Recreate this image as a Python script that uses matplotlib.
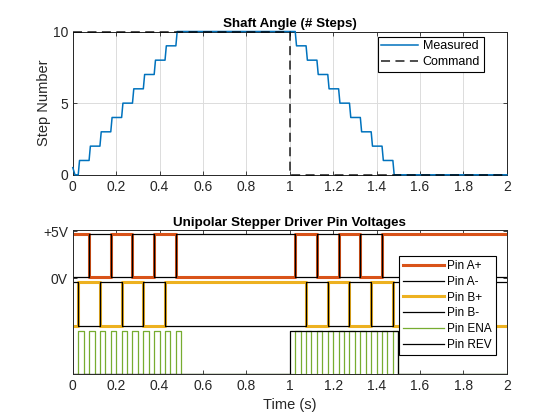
import numpy as np
import matplotlib
matplotlib.use("Agg")
import matplotlib.pyplot as plt

plt.rcParams['font.family'] = ['Liberation Sans', 'DejaVu Sans']

# --- shaft angle (steps) ---
cmd_t = [0.0, 1.0, 1.0, 2.0]
cmd_pos = [10, 10, 0, 0]

start_t = [0.0, 0.01]
start_pos = [0.5, 0.0]
step_t = [0.025, 0.075, 0.125, 0.175, 0.225, 0.275, 0.325, 0.375, 0.425, 0.475,
          1.025, 1.075, 1.125, 1.175, 1.225, 1.275, 1.325, 1.375, 1.425, 1.475]
step_level = [1, 2, 3, 4, 5, 6, 7, 8, 9, 10,
              9, 8, 7, 6, 5, 4, 3, 2, 1, 0]
end_t = 2.0

# --- driver pin edges (toggle times) ---
a_plus_init = 1
a_plus_edges = [0.075, 0.175, 0.275, 0.375, 0.475, 1.025, 1.125, 1.225, 1.325, 1.425]
b_plus_init = 0
b_plus_edges = [0.025, 0.125, 0.225, 0.325, 0.425, 1.075, 1.175, 1.275, 1.375, 1.475]
ena_rise = [0.025, 0.075, 0.125, 0.175, 0.225, 0.275, 0.325, 0.375, 0.425, 0.475,
            1.025, 1.075, 1.125, 1.175, 1.225, 1.275, 1.325, 1.375, 1.425, 1.475]
ena_width = 0.025
rev_init = 0
rev_edges = [1.0, 1.5]

# trace levels on the voltage axis (low, high)
a_lvl = (0.15, 4.75)
b_lvl = (-5.05, -0.4)
e_lvl = (-10.2, -5.6)

blue = '#0072BD'
orange = '#D95319'
yellow = '#EDB120'
green = '#77AC30'
axcol = '#262626'
xlabels = ['0', '0.2', '0.4', '0.6', '0.8', '1', '1.2', '1.4', '1.6', '1.8', '2']


def toggle_wave(init, edges, t_end=2.0):
    t = [0.0]
    v = [init]
    s = init
    for e in edges:
        s = 1 - s
        t.append(e)
        v.append(s)
    t.append(t_end)
    v.append(s)
    return np.array(t), np.array(v)


def scale(v, lvl):
    return lvl[0] + (lvl[1] - lvl[0]) * v


# measured shaft trace with short ramps at each step
meas_t = list(start_t)
meas_p = list(start_pos)
prev = start_pos[-1]
for ts, lv in zip(step_t, step_level):
    meas_t += [ts, ts + 0.006]
    meas_p += [prev, lv]
    prev = lv
meas_t.append(end_t)
meas_p.append(prev)

fig = plt.figure(figsize=(5.6, 4.2), dpi=100)
ax1 = fig.add_axes([0.13, 0.5838, 0.775, 0.3412])
ax2 = fig.add_axes([0.13, 0.11, 0.775, 0.3412])

ax1.plot(meas_t, meas_p, color=blue, lw=1.1, label='Measured', clip_on=False, zorder=3)
ax1.plot(cmd_t, cmd_pos, color='k', lw=1.3, ls=(0, (5, 3)), alpha=0.75, label='Command',
         clip_on=False, zorder=4)
ax1.set_xlim(0, 2)
ax1.set_ylim(0, 10)
ax1.set_yticks([0, 5, 10])
ax1.set_xticks(np.arange(0, 2.01, 0.2))
ax1.set_xticklabels(xlabels)
ax1.grid(True, color='#dcdcdc', lw=0.7)
ax1.set_axisbelow(True)
ax1.set_ylabel('Step Number', fontsize=10.5, color=axcol, labelpad=1)
ax1.set_title('Shaft Angle (# Steps)', fontsize=9.6, fontweight='bold', color='k', pad=3)
leg1 = ax1.legend(loc='upper right', bbox_to_anchor=(0.947, 0.965), fontsize=9,
                  fancybox=False, edgecolor='k', framealpha=1, handlelength=2.9,
                  borderpad=0.3, labelspacing=0.3, handletextpad=0.4, borderaxespad=0)
leg1.get_frame().set_linewidth(0.8)

# pin voltages
ta, va = toggle_wave(a_plus_init, a_plus_edges)
tb, vb = toggle_wave(b_plus_init, b_plus_edges)
tr, vr = toggle_wave(rev_init, rev_edges)
ena_edges = []
for r in ena_rise:
    ena_edges += [r, r + ena_width]
te, ve = toggle_wave(0, ena_edges)

ax2.plot(ta, scale(va, a_lvl), drawstyle='steps-post', color=orange, lw=2.2, label='Pin A+')
ax2.plot(ta, scale(1 - va, a_lvl), drawstyle='steps-post', color='k', lw=0.9, label='Pin A-')
ax2.plot(tb, scale(vb, b_lvl), drawstyle='steps-post', color=yellow, lw=2.2, label='Pin B+')
ax2.plot(tb, scale(1 - vb, b_lvl), drawstyle='steps-post', color='k', lw=0.9, label='Pin B-')
ax2.plot(te, scale(ve, e_lvl), drawstyle='steps-post', color=green, lw=0.9, label='Pin ENA')
ax2.plot(tr, scale(vr, e_lvl), drawstyle='steps-post', color='k', lw=0.9, label='Pin REV')
ax2.set_xlim(0, 2)
ax2.set_ylim(-10.2, 5.1)
ax2.set_yticks([0, 5])
ax2.set_yticklabels(['0V', '+5V'])
ax2.set_xticks(np.arange(0, 2.01, 0.2))
ax2.set_xticklabels(xlabels)
ax2.set_xlabel('Time (s)', fontsize=10.5, color=axcol, labelpad=4)
ax2.set_title('Unipolar Stepper Driver Pin Voltages', fontsize=9.6, fontweight='bold',
              color='k', pad=3)
leg2 = ax2.legend(loc='upper right', bbox_to_anchor=(0.975, 0.823), fontsize=8.5,
                  fancybox=False, edgecolor='k', framealpha=1, handlelength=3.4,
                  borderpad=0.35, labelspacing=0.32, handletextpad=0.3, borderaxespad=0)
leg2.get_frame().set_linewidth(0.8)

for ax in (ax1, ax2):
    ax.tick_params(direction='in', top=True, right=True, labelsize=10, colors=axcol,
                   length=3, width=0.6)
    for s in ax.spines.values():
        s.set_color(axcol)
        s.set_linewidth(0.7)

fig.savefig('out.png', dpi=100)
